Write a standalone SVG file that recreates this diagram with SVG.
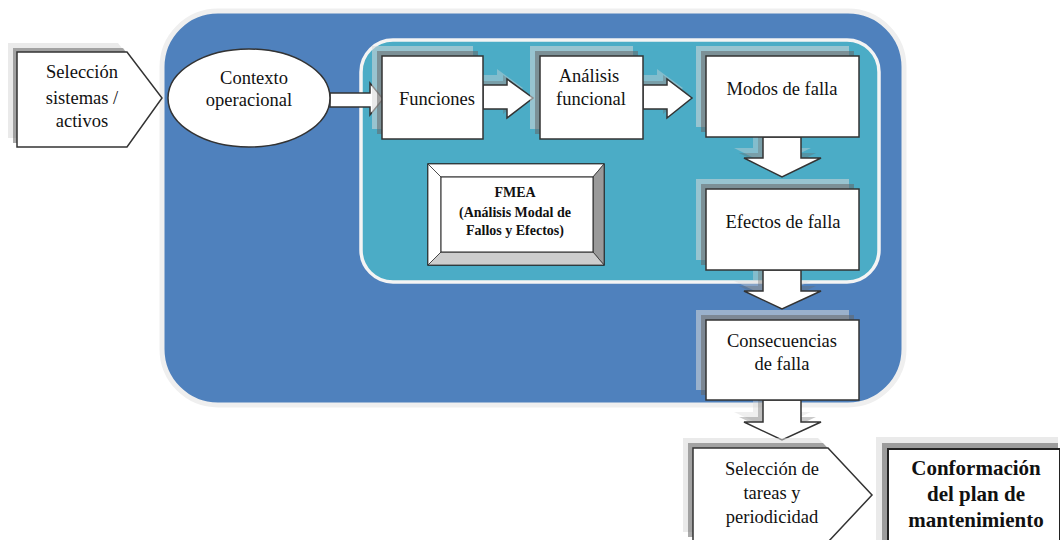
<svg xmlns="http://www.w3.org/2000/svg" width="1060" height="540" viewBox="0 0 1060 540">
<style>
.node{fill:#ffffff;stroke:#333333;stroke-width:1.5}
.sh1{fill:#d8d8d8;opacity:0.55}
.sh2{fill:#666666;opacity:0.55}
.ash1{fill:#d8d8d8;opacity:0.4}
.ash2{fill:#666666;opacity:0.35}
.t{font-family:"Liberation Serif","Times New Roman",serif;font-size:18.5px;fill:#111111;text-anchor:middle}
.tb{font-family:"Liberation Serif","Times New Roman",serif;font-weight:bold;fill:#111111;text-anchor:middle}
</style>
<rect width="1060" height="540" fill="#ffffff"/>

<g id="container-outer">
<rect x="162" y="11" width="742" height="394" rx="56" ry="56" fill="#4f81bd" stroke="#efefef" stroke-width="5"/>
</g>
<g id="container-inner">
<rect x="361" y="40" width="518" height="242" rx="32" ry="32" fill="#4bacc6" stroke="#f4f4f4" stroke-width="3.5"/>
</g>

<g id="connectors">
<g id="c-ctx-fun">
<polygon points="330,93 370,93 370,83 383,99 370,115 370,107 330,107" class="node"/>
</g>
<g id="c-fun-ana">
<polygon points="473,75 497,75 497,69 523,88 497,108 497,99 473,99" class="ash1"/>
<polygon points="479,81 503,81 503,75 529,94 503,114 503,105 479,105" class="ash2"/>
<polygon points="483,85 507,85 507,79 533,98 507,118 507,109 483,109" class="node"/>
</g>
<g id="c-ana-mod">
<polygon points="633,75 657,75 657,69 683,88 657,108 657,99 633,99" class="ash1"/>
<polygon points="639,81 663,81 663,75 689,94 663,114 663,105 639,105" class="ash2"/>
<polygon points="643,85 667,85 667,79 692,98 667,118 667,109 643,109" class="node"/>
</g>
<g id="c-mod-efe">
<polygon points="753,127 791,127 791,148 811,148 772,167 734,148 753,148" class="ash1"/>
<polygon points="758,132 796,132 796,153 816,153 777,172 739,153 758,153" class="ash2"/>
<polygon points="763,137 801,137 801,158 821,158 782,177 744,158 763,158" class="node"/>
</g>
<g id="c-efe-con">
<polygon points="753,260 791,260 791,281 811,281 772,299 734,281 753,281" class="ash1"/>
<polygon points="758,265 796,265 796,286 816,286 777,304 739,286 758,286" class="ash2"/>
<polygon points="763,270 801,270 801,291 821,291 782,309 744,291 763,291" class="node"/>
</g>
<g id="c-con-sel">
<polygon points="753,390 791,390 791,412 811,412 772,430 734,412 753,412" class="ash1"/>
<polygon points="758,395 796,395 796,417 816,417 777,435 739,417 758,417" class="ash2"/>
<polygon points="763,400 801,400 801,422 821,422 782,440 744,422 763,422" class="node"/>
</g>
</g>

<g id="n-seleccion-sistemas">
<polygon points="8,43 118,43 153,89 118,138 8,138" class="sh1"/>
<polygon points="13,48 123,48 158,94 123,143 13,143" class="sh2"/>
<polygon points="17,52 127,52 162,98 127,147 17,147" class="node"/>
<text class="t" x="82" y="78">Selección</text>
<text class="t" x="82" y="104">sistemas /</text>
<text class="t" x="82" y="127">activos</text>
</g>

<g id="n-contexto">
<ellipse cx="249" cy="98" rx="81" ry="49" class="node"/>
<text class="t" x="254" y="84">Contexto</text>
<text class="t" x="249" y="106">operacional</text>
</g>

<g id="n-funciones">
<rect x="372" y="46" width="101" height="83" class="sh1"/>
<rect x="377" y="51" width="101" height="83" class="sh2"/>
<rect x="382" y="56" width="101" height="83" class="node"/>
<text class="t" x="437" y="105">Funciones</text>
</g>

<g id="n-analisis">
<rect x="530" y="46" width="103" height="83" class="sh1"/>
<rect x="535" y="51" width="103" height="83" class="sh2"/>
<rect x="540" y="56" width="103" height="83" class="node"/>
<text class="t" x="589" y="82">Análisis</text>
<text class="t" x="591" y="105">funcional</text>
</g>

<g id="n-modos">
<rect x="696" y="46" width="153" height="81" class="sh1"/>
<rect x="701" y="51" width="153" height="81" class="sh2"/>
<rect x="706" y="56" width="153" height="81" class="node"/>
<text class="t" x="782" y="95">Modos de falla</text>
</g>

<g id="n-efectos">
<rect x="696" y="179" width="153" height="81" class="sh1"/>
<rect x="701" y="184" width="153" height="81" class="sh2"/>
<rect x="706" y="189" width="153" height="81" class="node"/>
<text class="t" x="783" y="228">Efectos de falla</text>
</g>

<g id="n-consecuencias">
<rect x="696" y="310" width="153" height="80" class="sh1"/>
<rect x="701" y="315" width="153" height="80" class="sh2"/>
<rect x="706" y="320" width="153" height="80" class="node"/>
<text class="t" x="782" y="347">Consecuencias</text>
<text class="t" x="782" y="370">de falla</text>
</g>

<g id="n-fmea">
<rect x="428" y="164" width="176" height="101" fill="#ffffff" stroke="#222222" stroke-width="1.5"/>
<polygon points="428,164 604,164 593,177 441,177" fill="#ffffff" stroke="#333" stroke-width="0.8"/>
<polygon points="428,164 441,177 441,252 428,265" fill="#ffffff" stroke="#333" stroke-width="0.8"/>
<polygon points="604,164 604,265 593,252 593,177" fill="#9a9a9a" stroke="#333" stroke-width="0.8"/>
<polygon points="428,265 441,252 593,252 604,265" fill="#cdcdcd" stroke="#333" stroke-width="0.8"/>
<rect x="441" y="177" width="152" height="75" fill="#ffffff" stroke="#222222" stroke-width="1"/>
<text class="tb" x="515" y="197" font-size="14">FMEA</text>
<text class="tb" x="515" y="217" font-size="14">(Análisis Modal de</text>
<text class="tb" x="515" y="235" font-size="14">Fallos y Efectos)</text>
</g>

<g id="n-seleccion-tareas">
<polygon points="683,438 818,438 862,485 818,532 683,532" class="sh1"/>
<polygon points="688,443 823,443 867,490 823,537 688,537" class="sh2"/>
<polygon points="693,448 828,448 872,495 828,542 693,542" class="node"/>
<text class="t" x="772" y="475">Selección de</text>
<text class="t" x="772" y="499">tareas y</text>
<text class="t" x="772" y="523">periodicidad</text>
</g>

<g id="n-conformacion">
<rect x="876" y="437" width="182" height="110" class="sh1"/>
<rect x="882" y="443" width="176" height="110" fill="#888888" opacity="0.8"/>
<rect x="888" y="449" width="172" height="100" fill="#ffffff" stroke="#222222" stroke-width="2"/>
<text class="tb" x="976" y="475" font-size="21">Conformación</text>
<text class="tb" x="976" y="501" font-size="21">del plan de</text>
<text class="tb" x="976" y="527" font-size="21">mantenimiento</text>
</g>
</svg>
